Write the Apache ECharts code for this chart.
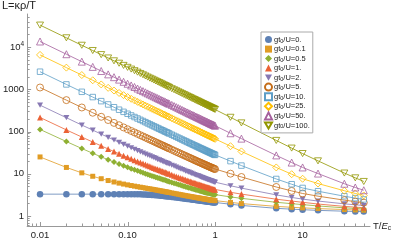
<!DOCTYPE html>
<html><head><meta charset="utf-8">
<script src="https://cdn.jsdelivr.net/npm/echarts@6/dist/echarts.min.js"></script>
<style>html,body{margin:0;padding:0;background:#fff}#c{width:395px;height:241px}</style>
</head><body><div id="c"></div>
<script>
// ---------- data ----------
const T = [0.01,0.02,0.03,0.04,0.05,0.06,0.07,0.08,0.09,0.10,
0.11,0.12,0.13,0.14,0.15,0.16,0.17,0.18,0.19,0.20,0.21,0.22,0.23,0.24,0.25,0.26,0.27,0.28,0.29,0.30,
0.32,0.34,0.36,0.38,0.40,0.42,0.44,0.46,0.48,0.50,0.52,0.54,0.56,0.58,0.60,0.62,0.64,0.66,0.68,0.70,
0.72,0.74,0.76,0.78,0.80,0.82,0.84,0.86,0.88,0.90,0.92,0.94,0.96,0.98,1.00,
1.5,2,5,7.5,10,15,30,40,50];

const gLabels = ['0.','0.1','0.5','1.','2.','5.','10.','25.','50.','100.'];

const L_g0 = [3.29,3.29,3.29,3.29,3.29,3.29,3.29,3.29,3.29,3.29,
3.29,3.28,3.27,3.26,3.24,3.22,3.20,3.18,3.16,3.14,3.11,3.08,3.06,3.03,3.00,2.98,2.95,2.93,2.90,2.88,
2.83,2.79,2.75,2.71,2.67,2.63,2.60,2.57,2.54,2.51,2.48,2.46,2.43,2.41,2.39,2.37,2.35,2.33,2.31,2.29,
2.27,2.25,2.24,2.22,2.21,2.19,2.18,2.17,2.15,2.14,2.13,2.12,2.11,2.10,2.09,
1.90,1.78,1.52,1.45,1.41,1.36,1.30,1.28,1.27];

const L_g01 = [25.0,14.1,10.5,8.72,7.63,6.91,6.39,6.00,5.70,5.46,
5.26,5.09,4.94,4.81,4.69,4.58,4.48,4.39,4.30,4.23,4.14,4.07,4.00,3.93,3.87,3.81,3.75,3.71,3.65,3.60,
3.51,3.43,3.35,3.28,3.21,3.15,3.09,3.04,2.99,2.94,2.90,2.86,2.82,2.78,2.75,2.72,2.69,2.66,2.63,2.60,
2.57,2.54,2.53,2.50,2.48,2.45,2.44,2.42,2.40,2.38,2.37,2.35,2.34,2.32,2.31,
2.10,1.97,1.69,1.61,1.56,1.50,1.42,1.39,1.37];

const L_g05 = [112,57.8,39.6,30.5,25.1,21.5,18.9,16.9,15.4,14.2,
13.2,12.4,11.7,11.1,10.5,10.0,9.61,9.24,8.90,8.59,8.30,8.03,7.80,7.57,7.36,7.17,6.99,6.82,6.66,6.51,
6.24,6.00,5.78,5.58,5.40,5.23,5.08,4.94,4.81,4.69,4.58,4.48,4.38,4.29,4.21,4.13,4.05,3.98,3.91,3.85,
3.78,3.72,3.67,3.62,3.57,3.52,3.48,3.44,3.39,3.35,3.31,3.28,3.25,3.21,3.18,
2.83,2.62,2.11,1.96,1.86,1.73,1.56,1.51,1.47];

const L_g1 = [215,109,74.0,56.3,45.7,38.6,33.6,29.8,26.8,24.5,
22.6,21.0,19.6,18.4,17.4,16.5,15.7,15.0,14.3,13.7,13.2,12.7,12.3,11.9,11.5,11.1,10.8,10.5,10.2,9.95,
9.46,9.03,8.64,8.29,7.97,7.68,7.42,7.18,6.96,6.75,6.56,6.39,6.22,6.07,5.92,5.79,5.66,5.54,5.43,5.32,
5.21,5.11,5.03,4.94,4.86,4.78,4.70,4.64,4.56,4.50,4.43,4.38,4.32,4.26,4.21,
3.64,3.30,2.50,2.26,2.11,1.92,1.69,1.62,1.57];

const L_g2 = [420,212,142,108,86.7,72.8,62.9,55.4,49.6,45.0,
41.2,38.0,35.3,33.1,31.0,29.3,27.7,26.4,25.1,24.0,23.0,22.0,21.2,20.4,19.7,19.0,18.4,17.8,17.3,16.8,
15.9,15.1,14.3,13.7,13.1,12.6,12.1,11.6,11.2,10.9,10.5,10.2,9.88,9.60,9.34,9.10,8.87,8.65,8.44,8.25,
8.06,7.89,7.73,7.57,7.42,7.28,7.14,7.02,6.89,6.77,6.66,6.56,6.45,6.36,6.26,
5.20,4.57,3.16,2.75,2.51,2.26,1.94,1.84,1.77];

const L_g5 = [1100,553,370,278,223,187,160,141,125,113,
103,95.0,87.9,81.8,76.6,72.0,67.9,64.3,61.1,58.2,55.5,53.1,50.9,48.9,47.0,45.3,43.7,42.2,40.8,39.5,
37.2,35.1,33.2,31.6,30.1,28.7,27.5,26.4,25.3,24.4,23.5,22.7,21.9,21.2,20.5,19.9,19.3,18.8,18.3,17.8,
17.3,16.9,16.5,16.1,15.7,15.4,15.0,14.7,14.4,14.1,13.9,13.6,13.3,13.1,12.9,
10.05,8.38,4.86,3.93,3.41,2.95,2.37,2.19,2.07];

const L_g10 = [2600,1300,870,653,523,437,375,328,292,263,
240,220,203,189,177,166,156,148,140,133,127,121,116,111,107,103,99.2,95.8,92.5,89.5,
84.0,79.2,74.9,71.1,67.6,64.4,61.6,59.0,56.6,54.4,52.3,50.4,48.7,47.1,45.5,44.1,42.8,41.5,40.3,39.2,
38.2,37.2,36.2,35.3,34.5,33.7,32.9,32.2,31.5,30.8,30.2,29.5,29.0,28.4,27.9,
19.9,15.6,7.52,5.65,4.61,3.86,2.94,2.65,2.47];

const L_g25 = [6500,3250,2170,1630,1300,1080,932,816,725,653,
594,545,503,467,436,409,386,364,345,328,313,298,286,274,263,253,244,235,227,220,
206,194,183,174,165,157,150,144,138,132,127,123,118,114,111,107,104,101,97.7,95.0,
92.3,89.9,87.5,85.3,83.2,81.2,79.3,77.5,75.8,74.1,72.5,71.0,69.6,68.2,66.9,
44.9,33.8,14.1,9.75,7.61,5.86,3.96,3.42,3.07];

const L_g50 = [13500,6750,4500,3380,2700,2250,1930,1690,1500,1350,
1230,1130,1040,967,903,847,797,753,714,678,646,617,590,566,543,522,503,485,468,453,
425,400,378,358,340,324,309,296,283,272,262,252,243,235,227,220,213,207,201,195,
190,184,180,175,171,167,163,159,155,152,149,146,143,140,137,
90.9,67.8,27.2,18.4,14.1,10.1,5.8,4.73,4.07];

const L_g100 = [33000,16500,11000,8250,6600,5500,4710,4130,3670,3300,
3000,2750,2540,2360,2200,2060,1940,1830,1740,1650,1570,1500,1440,1380,1320,1270,1220,1180,1140,1100,
1030,973,920,871,828,788,752,720,690,662,637,613,591,571,552,534,518,502,487,473,
460,448,436,425,414,404,395,386,377,369,361,353,346,339,332,
217,160,61.5,40.5,30.1,20.2,10.4,8.0,6.57];

const seriesValues = [L_g0,L_g01,L_g05,L_g1,L_g2,L_g5,L_g10,L_g25,L_g50,L_g100];

const xTickVals = [0.01,0.1,1,10];
const xTickText = ['0.01','0.10','1','10'];
const yTickVals = [1,10,100,1000,10000];
const yTickText = ['1','10','100','1000','{b|10}{p|4}'];
const xMinorVals = [0.008,0.009,0.02,0.03,0.04,0.05,0.06,0.07,0.08,0.09,0.2,0.3,0.4,0.5,0.6,0.7,0.8,0.9,2,3,4,5,6,7,8,9,20,30,40,50];
const yMinorVals = [0.6,0.7,0.8,0.9,2,3,4,5,6,7,8,9,20,30,40,50,60,70,80,90,200,300,400,500,600,700,800,900,2000,3000,4000,5000,6000,7000,8000,9000,20000,30000,40000,50000];

// ---------- styles ----------
const colors = ['#5E81B5','#E19C24','#8FB032','#EB6235','#8778B3','#C56E1A','#5D9EC7','#FFBF00','#A5609D','#929600'];
const DOWN = 'path://M0,0L10,0L5,8.66Z';
const marks = [
  {s:'circle',z:6.5,o:false},{s:'rect',z:5,o:false},{s:'diamond',z:6,o:false},
  {s:'triangle',z:6,o:false},{s:DOWN,z:6,o:false},
  {s:'circle',z:7,o:true},{s:'rect',z:5.5,o:true},{s:'diamond',z:7,o:true},
  {s:'triangle',z:7,o:true},{s:DOWN,z:7,o:true}
];
const XMIN = 0.00712, XMAX = 58.9, YMIN = 0.58, YMAX = 60400;
const AX = '#999';
const FONT = '"Liberation Sans", Arial, sans-serif';

const series = seriesValues.map((vals, i) => ({
  type: 'line',
  name: 'g' + i,
  data: T.map((t, j) => [t, vals[j]]),
  symbol: marks[i].s,
  symbolSize: marks[i].z,
  symbolKeepAspect: true,
  showAllSymbol: true,
  lineStyle: {color: colors[i], width: 0.8},
  itemStyle: marks[i].o
    ? {color: 'rgba(255,255,255,0)', borderColor: colors[i], borderWidth: 0.8}
    : {color: colors[i], borderWidth: 0},
  emphasis: {disabled: true},
  z: 2
}));

function tickSeries(vals, major, isX) {
  return {
    type: 'custom',
    silent: true,
    z: 1,
    data: vals.map(v => isX ? [v, 1] : [1, v]),
    clip: false,
    renderItem: function (params, api) {
      const cs = params.coordSys;
      const len = major ? 4 : 2.5;
      if (isX) {
        const x = Math.round(api.coord([api.value(0), 1])[0]) + 0.5;
        const y0 = cs.y + cs.height;
        return {type: 'line', shape: {x1: x, y1: y0, x2: x, y2: y0 - len}, style: {stroke: AX, lineWidth: 1}};
      } else {
        const y = Math.round(api.coord([1, api.value(1)])[1]) + 0.5;
        const x0 = cs.x;
        return {type: 'line', shape: {x1: x0, y1: y, x2: x0 + len, y2: y}, style: {stroke: AX, lineWidth: 1}};
      }
    }
  };
}

series.push(tickSeries(xTickVals, true, true));
series.push(tickSeries(xMinorVals, false, true));
series.push(tickSeries(yTickVals, true, false));
series.push(tickSeries(yMinorVals, false, false));

function pick(v, vals, texts) {
  const i = vals.findIndex(t => Math.abs(Math.log10(v) - Math.log10(t)) < 1e-6);
  return i < 0 ? '' : texts[i];
}

const chart = echarts.init(document.getElementById('c'), null, {renderer: 'canvas'});
chart.setOption({
  animation: false,
  backgroundColor: '#fff',
  grid: {left: 24, right: 25, top: 14, bottom: 15},
  xAxis: {
    type: 'log', min: XMIN, max: XMAX,
    axisLine: {show: true, lineStyle: {color: AX, width: 1}},
    axisTick: {show: false},
    splitLine: {show: false},
    axisLabel: {
      show: true, margin: 4, color: '#222', fontSize: 9.5, fontFamily: FONT,
      showMinLabel: false, showMaxLabel: false,
      formatter: v => pick(v, xTickVals, xTickText)
    },
    name: 'T/{i|E}{s|c}',
    nameLocation: 'end', nameGap: 3,
    nameTextStyle: {color: '#222', fontSize: 9.5, fontFamily: FONT, align: 'left', verticalAlign: 'middle',
      rich: {i: {fontStyle: 'italic', fontSize: 9.5, fontFamily: FONT, color: '#222'},
             s: {fontSize: 6.5, fontFamily: FONT, color: '#222', verticalAlign: 'bottom', padding: [4, 0, 0, 0]}}}
  },
  yAxis: {
    type: 'log', min: YMIN, max: YMAX,
    axisLine: {show: true, lineStyle: {color: AX, width: 1}},
    axisTick: {show: false},
    splitLine: {show: false},
    axisLabel: {
      show: true, margin: 3, color: '#222', fontSize: 9.5, fontFamily: FONT,
      showMinLabel: false, showMaxLabel: false,
      formatter: v => pick(v, yTickVals, yTickText),
      rich: {b: {fontSize: 9.5, fontFamily: FONT, color: '#222'},
             p: {fontSize: 6.5, fontFamily: FONT, color: '#222', verticalAlign: 'top', padding: [0, 0, 5, 0]}}
    }
  },
  legend: {
    orient: 'vertical', left: 261, top: 32,
    itemWidth: 7, itemHeight: 7, itemGap: 0.5,
    padding: [3, 3, 3, 3],
    borderColor: '#aaa', borderWidth: 1, borderRadius: 0,
    backgroundColor: '#fff',
    data: series.slice(0, 10).map((s, i) => ({name: s.name, icon: marks[i].s})),
    formatter: name => 'gt{s|0}/U=' + gLabels[+name.slice(1)],
    textStyle: {fontSize: 7.5, fontFamily: FONT, color: '#222', padding: [0, 0, 0, -3], lineHeight: 8.8,
      rich: {s: {fontSize: 5.5, fontFamily: FONT, color: '#222', verticalAlign: 'bottom', lineHeight: 8.8, padding: [3, 0, 0, 0]}}},
    selectedMode: false
  },
  graphic: [{
    type: 'text', left: 2, top: 0,
    style: {text: 'L=κρ/T', fontSize: 11, fontFamily: FONT, fill: '#222'}
  }],
  series: series
});
</script>
</body></html>
